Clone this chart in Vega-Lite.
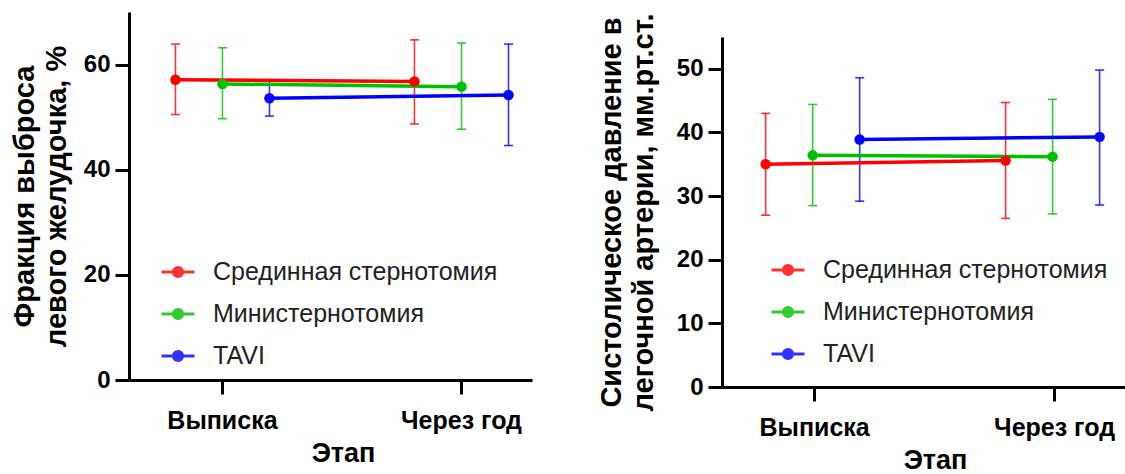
{
  "$schema": "https://vega.github.io/schema/vega-lite/v6.json",
  "padding": {"top": 12, "left": 10, "right": 0, "bottom": 0},
  "background": "white",
  "spacing": 65,
  "datasets": {
    "ef": [
      {"stage": "Выписка", "group": "Срединная стернотомия", "mean": 57.1, "lo": 50.5, "hi": 63.9},
      {"stage": "Выписка", "group": "Министернотомия", "mean": 56.3, "lo": 49.7, "hi": 63.2},
      {"stage": "Выписка", "group": "TAVI", "mean": 53.6, "lo": 50.2, "hi": 57.0},
      {"stage": "Через год", "group": "Срединная стернотомия", "mean": 56.8, "lo": 48.7, "hi": 64.7},
      {"stage": "Через год", "group": "Министернотомия", "mean": 55.8, "lo": 47.7, "hi": 64.1},
      {"stage": "Через год", "group": "TAVI", "mean": 54.2, "lo": 44.6, "hi": 63.9}
    ],
    "pap": [
      {"stage": "Выписка", "group": "Срединная стернотомия", "mean": 35.0, "lo": 27.0, "hi": 43.0},
      {"stage": "Выписка", "group": "Министернотомия", "mean": 36.4, "lo": 28.5, "hi": 44.4},
      {"stage": "Выписка", "group": "TAVI", "mean": 38.9, "lo": 29.2, "hi": 48.6},
      {"stage": "Через год", "group": "Срединная стернотомия", "mean": 35.6, "lo": 26.5, "hi": 44.7},
      {"stage": "Через год", "group": "Министернотомия", "mean": 36.2, "lo": 27.2, "hi": 45.2},
      {"stage": "Через год", "group": "TAVI", "mean": 39.3, "lo": 28.6, "hi": 49.8}
    ],
    "empty": []
  },
  "resolve": {"legend": {"color": "independent"}},
  "hconcat": [
    {
      "width": 403,
      "height": 368,
      "data": {"name": "ef"},
      "encoding": {
        "x": {
          "field": "stage", "type": "nominal", "sort": ["Выписка", "Через год"],
          "scale": {"paddingInner": 0.41, "paddingOuter": 0.048, "align": 1},
          "axis": {"title": "Этап", "labelAngle": 0, "titleX": 214}
        },
        "xOffset": {
          "field": "group", "type": "nominal",
          "sort": ["Срединная стернотомия", "Министернотомия", "TAVI"],
          "scale": {"paddingInner": 0, "paddingOuter": 0}
        },
        "color": {
          "field": "group", "type": "nominal",
          "sort": ["Срединная стернотомия", "Министернотомия", "TAVI"],
          "scale": {"domain": ["Срединная стернотомия", "Министернотомия", "TAVI"], "range": ["#ff0000", "#00c000", "#0000ff"]},
          "legend": {"orient": "none", "legendX": 31, "legendY": 242, "title": null}
        }
      },
      "layer": [
        {
          "mark": {"type": "rule", "strokeWidth": 1.6, "opacity": 0.8},
          "encoding": {
            "y": {"field": "lo", "type": "quantitative", "scale": {"domain": [0, 70], "nice": false},
              "axis": {"values": [0, 20, 40, 60], "title": ["Фракция выброса", "левого желудочка, %"]}},
            "y2": {"field": "hi"}
          }
        },
        {
          "mark": {"type": "tick", "size": 9, "thickness": 1.6, "opacity": 0.8},
          "encoding": {"y": {"field": "lo", "type": "quantitative"}}
        },
        {
          "mark": {"type": "tick", "size": 9, "thickness": 1.6, "opacity": 0.8},
          "encoding": {"y": {"field": "hi", "type": "quantitative"}}
        },
        {
          "mark": {"type": "line", "strokeWidth": 3.5},
          "encoding": {"y": {"field": "mean", "type": "quantitative"}, "detail": {"field": "group"}}
        },
        {
          "mark": {"type": "point", "filled": true, "size": 110, "opacity": 1},
          "encoding": {"y": {"field": "mean", "type": "quantitative"}}
        }
      ]
    },
    {
      "spacing": 0,
      "resolve": {"legend": {"color": "independent"}},
      "vconcat": [
        {
          "width": 405,
          "height": 1,
          "data": {"name": "empty"},
          "mark": "point"
        },
        {
          "width": 405,
          "height": 350,
          "data": {"name": "pap"},
          "encoding": {
            "x": {
              "field": "stage", "type": "nominal", "sort": ["Выписка", "Через год"],
              "scale": {"paddingInner": 0.396, "paddingOuter": 0.042, "align": 1},
              "axis": {"title": "Этап", "labelAngle": 0, "titleX": 213}
            },
            "xOffset": {
              "field": "group", "type": "nominal",
              "sort": ["Срединная стернотомия", "Министернотомия", "TAVI"],
              "scale": {"paddingInner": 0, "paddingOuter": 0}
            },
            "color": {
              "field": "group", "type": "nominal",
              "sort": ["Срединная стернотомия", "Министернотомия", "TAVI"],
              "scale": {"domain": ["Срединная стернотомия", "Министернотомия", "TAVI"], "range": ["#ff0000", "#00c000", "#0000ff"]},
              "legend": {"orient": "none", "legendX": 48, "legendY": 215, "title": null}
            }
          },
          "layer": [
            {
              "mark": {"type": "rule", "strokeWidth": 1.6, "opacity": 0.8},
              "encoding": {
                "y": {"field": "lo", "type": "quantitative", "scale": {"domain": [0, 55], "nice": false},
                  "axis": {"values": [0, 10, 20, 30, 40, 50], "titlePadding": 18, "title": ["Систолическое давление в", "легочной артерии, мм.рт.ст."]}},
                "y2": {"field": "hi"}
              }
            },
            {
              "mark": {"type": "tick", "size": 9, "thickness": 1.6, "opacity": 0.8},
              "encoding": {"y": {"field": "lo", "type": "quantitative"}}
            },
            {
              "mark": {"type": "tick", "size": 9, "thickness": 1.6, "opacity": 0.8},
              "encoding": {"y": {"field": "hi", "type": "quantitative"}}
            },
            {
              "mark": {"type": "line", "strokeWidth": 3.5},
              "encoding": {"y": {"field": "mean", "type": "quantitative"}, "detail": {"field": "group"}}
            },
            {
              "mark": {"type": "point", "filled": true, "size": 110, "opacity": 1},
              "encoding": {"y": {"field": "mean", "type": "quantitative"}}
            }
          ]
        }
      ]
    }
  ],
  "config": {
    "view": {"stroke": null},
    "font": "Liberation Sans",
    "axis": {
      "grid": false,
      "domainColor": "black",
      "domainWidth": 3,
      "tickColor": "black",
      "tickWidth": 3,
      "tickSize": 14,
      "labelFont": "Liberation Sans",
      "labelFontWeight": "bold",
      "labelFontSize": 24,
      "labelColor": "black",
      "labelPadding": 5,
      "titleFont": "Liberation Sans",
      "titleFontWeight": "bold",
      "titleFontSize": 29,
      "titleColor": "black",
      "titleLineHeight": 32
    },
    "axisX": {"titlePadding": 7, "labelPadding": 14, "titleFontSize": 27, "labelFontSize": 25},
    "axisY": {"titlePadding": 12},
    "legend": {
      "symbolType": "M-1,0H1M-0.28,0A0.28,0.28,0,1,0,0.28,0A0.28,0.28,0,1,0,-0.28,0Z",
      "symbolSize": 1089,
      "symbolStrokeWidth": 3,
      "labelFont": "Liberation Sans",
      "labelFontSize": 25,
      "labelColor": "#222222",
      "labelOffset": 17,
      "rowPadding": 11,
      "labelLimit": 400
    }
  }
}
